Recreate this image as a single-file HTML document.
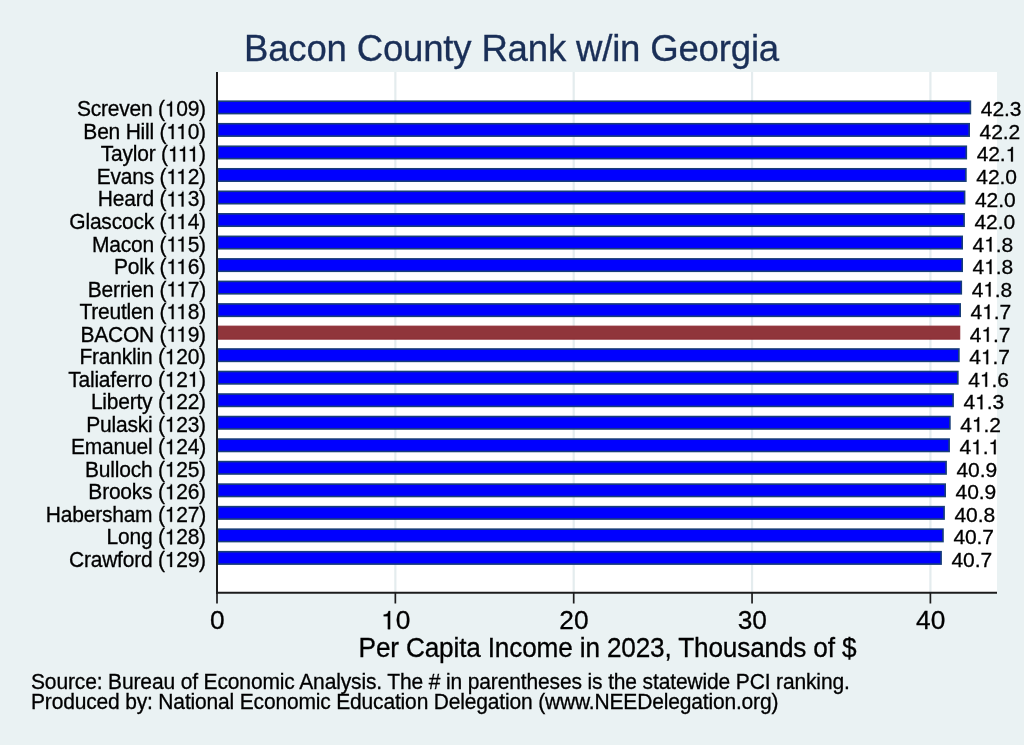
<!DOCTYPE html>
<html><head><meta charset="utf-8"><style>
html,body{margin:0;padding:0;background:#EAF2F3;overflow:hidden;}
svg{display:block;will-change:transform;}
text{font-family:"Liberation Sans", sans-serif;}
</style></head><body>
<svg width="1024" height="745" viewBox="0 0 1024 745">
<rect x="0" y="0" width="1024" height="745" fill="#EAF2F3"/>
<rect x="217" y="72" width="780" height="521" fill="#FFFFFF"/>
<line x1="395.35" y1="72" x2="395.35" y2="592" stroke="#E4ECEE" stroke-width="2.2"/>
<line x1="573.70" y1="72" x2="573.70" y2="592" stroke="#E4ECEE" stroke-width="2.2"/>
<line x1="752.05" y1="72" x2="752.05" y2="592" stroke="#E4ECEE" stroke-width="2.2"/>
<line x1="930.40" y1="72" x2="930.40" y2="592" stroke="#E4ECEE" stroke-width="2.2"/>
<g transform="translate(0,116.40) scale(1,1.02) translate(0,-116.40)">
<mask id="m0" maskUnits="userSpaceOnUse" x="0" y="0" width="1024" height="745"><rect x="0" y="0" width="1024" height="745" fill="#fff"/><rect x="165.15" y="100.75" width="11.45" height="17.05" fill="#000"/></mask>
<text id="t0" x="205.90" y="116.40" font-size="21.0" letter-spacing="-0.22" text-anchor="end" fill="#000" stroke="#000" stroke-width="0.3" mask="url(#m0)">Screven (109)</text>
<path d="M259 505H102V568Q204 581 235 604Q266 627 289 709H347V0H259Z" transform="translate(164.75,116.40) scale(0.02100,-0.02048)" fill="#000" stroke="#000" stroke-width="14.29"/>
</g>
<g transform="translate(0,116.40) scale(1,1.0) translate(0,-116.40)">
<text id="t1" x="980.80" y="116.40" font-size="21.0" letter-spacing="-0.1" text-anchor="start" fill="#000" stroke="#000" stroke-width="0.3">42.3</text>
</g>
<g transform="translate(0,138.93) scale(1,1.02) translate(0,-138.93)">
<mask id="m2" maskUnits="userSpaceOnUse" x="0" y="0" width="1024" height="745"><rect x="0" y="0" width="1024" height="745" fill="#fff"/><rect x="166.69" y="123.28" width="11.45" height="17.05" fill="#000"/><rect x="176.59" y="123.28" width="11.45" height="17.05" fill="#000"/></mask>
<text id="t2" x="205.90" y="138.93" font-size="21.0" letter-spacing="-0.22" text-anchor="end" fill="#000" stroke="#000" stroke-width="0.3" mask="url(#m2)">Ben Hill (110)</text>
<path d="M259 505H102V568Q204 581 235 604Q266 627 289 709H347V0H259Z" transform="translate(166.30,138.93) scale(0.02100,-0.02048)" fill="#000" stroke="#000" stroke-width="14.29"/>
<path d="M259 505H102V568Q204 581 235 604Q266 627 289 709H347V0H259Z" transform="translate(176.20,138.93) scale(0.02100,-0.02048)" fill="#000" stroke="#000" stroke-width="14.29"/>
</g>
<g transform="translate(0,138.93) scale(1,1.0) translate(0,-138.93)">
<text id="t3" x="979.60" y="138.93" font-size="21.0" letter-spacing="-0.1" text-anchor="start" fill="#000" stroke="#000" stroke-width="0.3">42.2</text>
</g>
<g transform="translate(0,161.45) scale(1,1.02) translate(0,-161.45)">
<mask id="m4" maskUnits="userSpaceOnUse" x="0" y="0" width="1024" height="745"><rect x="0" y="0" width="1024" height="745" fill="#fff"/><rect x="168.26" y="145.80" width="11.45" height="17.05" fill="#000"/><rect x="178.16" y="145.80" width="11.45" height="17.05" fill="#000"/><rect x="188.06" y="145.80" width="11.45" height="17.05" fill="#000"/></mask>
<text id="t4" x="205.90" y="161.45" font-size="21.0" letter-spacing="-0.22" text-anchor="end" fill="#000" stroke="#000" stroke-width="0.3" mask="url(#m4)">Taylor (111)</text>
<path d="M259 505H102V568Q204 581 235 604Q266 627 289 709H347V0H259Z" transform="translate(167.86,161.45) scale(0.02100,-0.02048)" fill="#000" stroke="#000" stroke-width="14.29"/>
<path d="M259 505H102V568Q204 581 235 604Q266 627 289 709H347V0H259Z" transform="translate(177.76,161.45) scale(0.02100,-0.02048)" fill="#000" stroke="#000" stroke-width="14.29"/>
<path d="M259 505H102V568Q204 581 235 604Q266 627 289 709H347V0H259Z" transform="translate(187.66,161.45) scale(0.02100,-0.02048)" fill="#000" stroke="#000" stroke-width="14.29"/>
</g>
<g transform="translate(0,161.45) scale(1,1.0) translate(0,-161.45)">
<mask id="m5" maskUnits="userSpaceOnUse" x="0" y="0" width="1024" height="745"><rect x="0" y="0" width="1024" height="745" fill="#fff"/><rect x="1005.99" y="145.80" width="11.45" height="17.05" fill="#000"/></mask>
<text id="t5" x="976.70" y="161.45" font-size="21.0" letter-spacing="-0.1" text-anchor="start" fill="#000" stroke="#000" stroke-width="0.3" mask="url(#m5)">42.1</text>
<path d="M259 505H102V568Q204 581 235 604Q266 627 289 709H347V0H259Z" transform="translate(1005.59,161.45) scale(0.02100,-0.02048)" fill="#000" stroke="#000" stroke-width="14.29"/>
</g>
<g transform="translate(0,183.97) scale(1,1.02) translate(0,-183.97)">
<mask id="m6" maskUnits="userSpaceOnUse" x="0" y="0" width="1024" height="745"><rect x="0" y="0" width="1024" height="745" fill="#fff"/><rect x="166.69" y="168.32" width="11.45" height="17.05" fill="#000"/><rect x="176.59" y="168.32" width="11.45" height="17.05" fill="#000"/></mask>
<text id="t6" x="205.90" y="183.97" font-size="21.0" letter-spacing="-0.22" text-anchor="end" fill="#000" stroke="#000" stroke-width="0.3" mask="url(#m6)">Evans (112)</text>
<path d="M259 505H102V568Q204 581 235 604Q266 627 289 709H347V0H259Z" transform="translate(166.30,183.97) scale(0.02100,-0.02048)" fill="#000" stroke="#000" stroke-width="14.29"/>
<path d="M259 505H102V568Q204 581 235 604Q266 627 289 709H347V0H259Z" transform="translate(176.20,183.97) scale(0.02100,-0.02048)" fill="#000" stroke="#000" stroke-width="14.29"/>
</g>
<g transform="translate(0,183.97) scale(1,1.0) translate(0,-183.97)">
<text id="t7" x="976.30" y="183.97" font-size="21.0" letter-spacing="-0.1" text-anchor="start" fill="#000" stroke="#000" stroke-width="0.3">42.0</text>
</g>
<g transform="translate(0,206.50) scale(1,1.02) translate(0,-206.50)">
<mask id="m8" maskUnits="userSpaceOnUse" x="0" y="0" width="1024" height="745"><rect x="0" y="0" width="1024" height="745" fill="#fff"/><rect x="166.71" y="190.85" width="11.45" height="17.05" fill="#000"/><rect x="176.61" y="190.85" width="11.45" height="17.05" fill="#000"/></mask>
<text id="t8" x="205.90" y="206.50" font-size="21.0" letter-spacing="-0.22" text-anchor="end" fill="#000" stroke="#000" stroke-width="0.3" mask="url(#m8)">Heard (113)</text>
<path d="M259 505H102V568Q204 581 235 604Q266 627 289 709H347V0H259Z" transform="translate(166.31,206.50) scale(0.02100,-0.02048)" fill="#000" stroke="#000" stroke-width="14.29"/>
<path d="M259 505H102V568Q204 581 235 604Q266 627 289 709H347V0H259Z" transform="translate(176.21,206.50) scale(0.02100,-0.02048)" fill="#000" stroke="#000" stroke-width="14.29"/>
</g>
<g transform="translate(0,206.50) scale(1,1.0) translate(0,-206.50)">
<text id="t9" x="975.00" y="206.50" font-size="21.0" letter-spacing="-0.1" text-anchor="start" fill="#000" stroke="#000" stroke-width="0.3">42.0</text>
</g>
<g transform="translate(0,229.03) scale(1,1.02) translate(0,-229.03)">
<mask id="m10" maskUnits="userSpaceOnUse" x="0" y="0" width="1024" height="745"><rect x="0" y="0" width="1024" height="745" fill="#fff"/><rect x="166.71" y="213.38" width="11.45" height="17.05" fill="#000"/><rect x="176.59" y="213.38" width="11.45" height="17.05" fill="#000"/></mask>
<text id="t10" x="205.90" y="229.03" font-size="21.0" letter-spacing="-0.22" text-anchor="end" fill="#000" stroke="#000" stroke-width="0.3" mask="url(#m10)">Glascock (114)</text>
<path d="M259 505H102V568Q204 581 235 604Q266 627 289 709H347V0H259Z" transform="translate(166.31,229.03) scale(0.02100,-0.02048)" fill="#000" stroke="#000" stroke-width="14.29"/>
<path d="M259 505H102V568Q204 581 235 604Q266 627 289 709H347V0H259Z" transform="translate(176.20,229.03) scale(0.02100,-0.02048)" fill="#000" stroke="#000" stroke-width="14.29"/>
</g>
<g transform="translate(0,229.03) scale(1,1.0) translate(0,-229.03)">
<text id="t11" x="974.50" y="229.03" font-size="21.0" letter-spacing="-0.1" text-anchor="start" fill="#000" stroke="#000" stroke-width="0.3">42.0</text>
</g>
<g transform="translate(0,251.55) scale(1,1.02) translate(0,-251.55)">
<mask id="m12" maskUnits="userSpaceOnUse" x="0" y="0" width="1024" height="745"><rect x="0" y="0" width="1024" height="745" fill="#fff"/><rect x="166.71" y="235.90" width="11.45" height="17.05" fill="#000"/><rect x="176.61" y="235.90" width="11.45" height="17.05" fill="#000"/></mask>
<text id="t12" x="205.90" y="251.55" font-size="21.0" letter-spacing="-0.22" text-anchor="end" fill="#000" stroke="#000" stroke-width="0.3" mask="url(#m12)">Macon (115)</text>
<path d="M259 505H102V568Q204 581 235 604Q266 627 289 709H347V0H259Z" transform="translate(166.31,251.55) scale(0.02100,-0.02048)" fill="#000" stroke="#000" stroke-width="14.29"/>
<path d="M259 505H102V568Q204 581 235 604Q266 627 289 709H347V0H259Z" transform="translate(176.21,251.55) scale(0.02100,-0.02048)" fill="#000" stroke="#000" stroke-width="14.29"/>
</g>
<g transform="translate(0,251.55) scale(1,1.0) translate(0,-251.55)">
<mask id="m13" maskUnits="userSpaceOnUse" x="0" y="0" width="1024" height="745"><rect x="0" y="0" width="1024" height="745" fill="#fff"/><rect x="984.57" y="235.90" width="11.45" height="17.05" fill="#000"/></mask>
<text id="t13" x="972.60" y="251.55" font-size="21.0" letter-spacing="-0.1" text-anchor="start" fill="#000" stroke="#000" stroke-width="0.3" mask="url(#m13)">41.8</text>
<path d="M259 505H102V568Q204 581 235 604Q266 627 289 709H347V0H259Z" transform="translate(984.18,251.55) scale(0.02100,-0.02048)" fill="#000" stroke="#000" stroke-width="14.29"/>
</g>
<g transform="translate(0,274.07) scale(1,1.02) translate(0,-274.07)">
<mask id="m14" maskUnits="userSpaceOnUse" x="0" y="0" width="1024" height="745"><rect x="0" y="0" width="1024" height="745" fill="#fff"/><rect x="166.71" y="258.42" width="11.45" height="17.05" fill="#000"/><rect x="176.61" y="258.42" width="11.45" height="17.05" fill="#000"/></mask>
<text id="t14" x="205.90" y="274.07" font-size="21.0" letter-spacing="-0.22" text-anchor="end" fill="#000" stroke="#000" stroke-width="0.3" mask="url(#m14)">Polk (116)</text>
<path d="M259 505H102V568Q204 581 235 604Q266 627 289 709H347V0H259Z" transform="translate(166.31,274.07) scale(0.02100,-0.02048)" fill="#000" stroke="#000" stroke-width="14.29"/>
<path d="M259 505H102V568Q204 581 235 604Q266 627 289 709H347V0H259Z" transform="translate(176.21,274.07) scale(0.02100,-0.02048)" fill="#000" stroke="#000" stroke-width="14.29"/>
</g>
<g transform="translate(0,274.07) scale(1,1.0) translate(0,-274.07)">
<mask id="m15" maskUnits="userSpaceOnUse" x="0" y="0" width="1024" height="745"><rect x="0" y="0" width="1024" height="745" fill="#fff"/><rect x="984.57" y="258.42" width="11.45" height="17.05" fill="#000"/></mask>
<text id="t15" x="972.60" y="274.07" font-size="21.0" letter-spacing="-0.1" text-anchor="start" fill="#000" stroke="#000" stroke-width="0.3" mask="url(#m15)">41.8</text>
<path d="M259 505H102V568Q204 581 235 604Q266 627 289 709H347V0H259Z" transform="translate(984.18,274.07) scale(0.02100,-0.02048)" fill="#000" stroke="#000" stroke-width="14.29"/>
</g>
<g transform="translate(0,296.60) scale(1,1.02) translate(0,-296.60)">
<mask id="m16" maskUnits="userSpaceOnUse" x="0" y="0" width="1024" height="745"><rect x="0" y="0" width="1024" height="745" fill="#fff"/><rect x="166.71" y="280.95" width="11.45" height="17.05" fill="#000"/><rect x="176.61" y="280.95" width="11.45" height="17.05" fill="#000"/></mask>
<text id="t16" x="205.90" y="296.60" font-size="21.0" letter-spacing="-0.22" text-anchor="end" fill="#000" stroke="#000" stroke-width="0.3" mask="url(#m16)">Berrien (117)</text>
<path d="M259 505H102V568Q204 581 235 604Q266 627 289 709H347V0H259Z" transform="translate(166.31,296.60) scale(0.02100,-0.02048)" fill="#000" stroke="#000" stroke-width="14.29"/>
<path d="M259 505H102V568Q204 581 235 604Q266 627 289 709H347V0H259Z" transform="translate(176.21,296.60) scale(0.02100,-0.02048)" fill="#000" stroke="#000" stroke-width="14.29"/>
</g>
<g transform="translate(0,296.60) scale(1,1.0) translate(0,-296.60)">
<mask id="m17" maskUnits="userSpaceOnUse" x="0" y="0" width="1024" height="745"><rect x="0" y="0" width="1024" height="745" fill="#fff"/><rect x="983.67" y="280.95" width="11.45" height="17.05" fill="#000"/></mask>
<text id="t17" x="971.70" y="296.60" font-size="21.0" letter-spacing="-0.1" text-anchor="start" fill="#000" stroke="#000" stroke-width="0.3" mask="url(#m17)">41.8</text>
<path d="M259 505H102V568Q204 581 235 604Q266 627 289 709H347V0H259Z" transform="translate(983.28,296.60) scale(0.02100,-0.02048)" fill="#000" stroke="#000" stroke-width="14.29"/>
</g>
<g transform="translate(0,319.12) scale(1,1.02) translate(0,-319.12)">
<mask id="m18" maskUnits="userSpaceOnUse" x="0" y="0" width="1024" height="745"><rect x="0" y="0" width="1024" height="745" fill="#fff"/><rect x="166.71" y="303.47" width="11.45" height="17.05" fill="#000"/><rect x="176.61" y="303.47" width="11.45" height="17.05" fill="#000"/></mask>
<text id="t18" x="205.90" y="319.12" font-size="21.0" letter-spacing="-0.22" text-anchor="end" fill="#000" stroke="#000" stroke-width="0.3" mask="url(#m18)">Treutlen (118)</text>
<path d="M259 505H102V568Q204 581 235 604Q266 627 289 709H347V0H259Z" transform="translate(166.31,319.12) scale(0.02100,-0.02048)" fill="#000" stroke="#000" stroke-width="14.29"/>
<path d="M259 505H102V568Q204 581 235 604Q266 627 289 709H347V0H259Z" transform="translate(176.21,319.12) scale(0.02100,-0.02048)" fill="#000" stroke="#000" stroke-width="14.29"/>
</g>
<g transform="translate(0,319.12) scale(1,1.0) translate(0,-319.12)">
<mask id="m19" maskUnits="userSpaceOnUse" x="0" y="0" width="1024" height="745"><rect x="0" y="0" width="1024" height="745" fill="#fff"/><rect x="982.57" y="303.47" width="11.45" height="17.05" fill="#000"/></mask>
<text id="t19" x="970.60" y="319.12" font-size="21.0" letter-spacing="-0.1" text-anchor="start" fill="#000" stroke="#000" stroke-width="0.3" mask="url(#m19)">41.7</text>
<path d="M259 505H102V568Q204 581 235 604Q266 627 289 709H347V0H259Z" transform="translate(982.18,319.12) scale(0.02100,-0.02048)" fill="#000" stroke="#000" stroke-width="14.29"/>
</g>
<g transform="translate(0,341.65) scale(1,1.02) translate(0,-341.65)">
<mask id="m20" maskUnits="userSpaceOnUse" x="0" y="0" width="1024" height="745"><rect x="0" y="0" width="1024" height="745" fill="#fff"/><rect x="166.71" y="326.00" width="11.45" height="17.05" fill="#000"/><rect x="176.59" y="326.00" width="11.45" height="17.05" fill="#000"/></mask>
<text id="t20" x="205.90" y="341.65" font-size="21.0" letter-spacing="-0.22" text-anchor="end" fill="#000" stroke="#000" stroke-width="0.3" mask="url(#m20)">BACON (119)</text>
<path d="M259 505H102V568Q204 581 235 604Q266 627 289 709H347V0H259Z" transform="translate(166.31,341.65) scale(0.02100,-0.02048)" fill="#000" stroke="#000" stroke-width="14.29"/>
<path d="M259 505H102V568Q204 581 235 604Q266 627 289 709H347V0H259Z" transform="translate(176.20,341.65) scale(0.02100,-0.02048)" fill="#000" stroke="#000" stroke-width="14.29"/>
</g>
<g transform="translate(0,341.65) scale(1,1.0) translate(0,-341.65)">
<mask id="m21" maskUnits="userSpaceOnUse" x="0" y="0" width="1024" height="745"><rect x="0" y="0" width="1024" height="745" fill="#fff"/><rect x="981.82" y="326.00" width="11.45" height="17.05" fill="#000"/></mask>
<text id="t21" x="969.85" y="341.65" font-size="21.0" letter-spacing="-0.1" text-anchor="start" fill="#000" stroke="#000" stroke-width="0.3" mask="url(#m21)">41.7</text>
<path d="M259 505H102V568Q204 581 235 604Q266 627 289 709H347V0H259Z" transform="translate(981.43,341.65) scale(0.02100,-0.02048)" fill="#000" stroke="#000" stroke-width="14.29"/>
</g>
<g transform="translate(0,364.17) scale(1,1.02) translate(0,-364.17)">
<mask id="m22" maskUnits="userSpaceOnUse" x="0" y="0" width="1024" height="745"><rect x="0" y="0" width="1024" height="745" fill="#fff"/><rect x="165.15" y="348.52" width="11.45" height="17.05" fill="#000"/></mask>
<text id="t22" x="205.90" y="364.17" font-size="21.0" letter-spacing="-0.22" text-anchor="end" fill="#000" stroke="#000" stroke-width="0.3" mask="url(#m22)">Franklin (120)</text>
<path d="M259 505H102V568Q204 581 235 604Q266 627 289 709H347V0H259Z" transform="translate(164.75,364.17) scale(0.02100,-0.02048)" fill="#000" stroke="#000" stroke-width="14.29"/>
</g>
<g transform="translate(0,364.17) scale(1,1.0) translate(0,-364.17)">
<mask id="m23" maskUnits="userSpaceOnUse" x="0" y="0" width="1024" height="745"><rect x="0" y="0" width="1024" height="745" fill="#fff"/><rect x="981.27" y="348.52" width="11.45" height="17.05" fill="#000"/></mask>
<text id="t23" x="969.30" y="364.17" font-size="21.0" letter-spacing="-0.1" text-anchor="start" fill="#000" stroke="#000" stroke-width="0.3" mask="url(#m23)">41.7</text>
<path d="M259 505H102V568Q204 581 235 604Q266 627 289 709H347V0H259Z" transform="translate(980.88,364.17) scale(0.02100,-0.02048)" fill="#000" stroke="#000" stroke-width="14.29"/>
</g>
<g transform="translate(0,386.70) scale(1,1.02) translate(0,-386.70)">
<mask id="m24" maskUnits="userSpaceOnUse" x="0" y="0" width="1024" height="745"><rect x="0" y="0" width="1024" height="745" fill="#fff"/><rect x="165.15" y="371.05" width="11.45" height="17.05" fill="#000"/><rect x="188.06" y="371.05" width="11.45" height="17.05" fill="#000"/></mask>
<text id="t24" x="205.90" y="386.70" font-size="21.0" letter-spacing="-0.22" text-anchor="end" fill="#000" stroke="#000" stroke-width="0.3" mask="url(#m24)">Taliaferro (121)</text>
<path d="M259 505H102V568Q204 581 235 604Q266 627 289 709H347V0H259Z" transform="translate(164.75,386.70) scale(0.02100,-0.02048)" fill="#000" stroke="#000" stroke-width="14.29"/>
<path d="M259 505H102V568Q204 581 235 604Q266 627 289 709H347V0H259Z" transform="translate(187.66,386.70) scale(0.02100,-0.02048)" fill="#000" stroke="#000" stroke-width="14.29"/>
</g>
<g transform="translate(0,386.70) scale(1,1.0) translate(0,-386.70)">
<mask id="m25" maskUnits="userSpaceOnUse" x="0" y="0" width="1024" height="745"><rect x="0" y="0" width="1024" height="745" fill="#fff"/><rect x="980.22" y="371.05" width="11.45" height="17.05" fill="#000"/></mask>
<text id="t25" x="968.25" y="386.70" font-size="21.0" letter-spacing="-0.1" text-anchor="start" fill="#000" stroke="#000" stroke-width="0.3" mask="url(#m25)">41.6</text>
<path d="M259 505H102V568Q204 581 235 604Q266 627 289 709H347V0H259Z" transform="translate(979.83,386.70) scale(0.02100,-0.02048)" fill="#000" stroke="#000" stroke-width="14.29"/>
</g>
<g transform="translate(0,409.23) scale(1,1.02) translate(0,-409.23)">
<mask id="m26" maskUnits="userSpaceOnUse" x="0" y="0" width="1024" height="745"><rect x="0" y="0" width="1024" height="745" fill="#fff"/><rect x="165.13" y="393.58" width="11.45" height="17.05" fill="#000"/></mask>
<text id="t26" x="205.90" y="409.23" font-size="21.0" letter-spacing="-0.22" text-anchor="end" fill="#000" stroke="#000" stroke-width="0.3" mask="url(#m26)">Liberty (122)</text>
<path d="M259 505H102V568Q204 581 235 604Q266 627 289 709H347V0H259Z" transform="translate(164.74,409.23) scale(0.02100,-0.02048)" fill="#000" stroke="#000" stroke-width="14.29"/>
</g>
<g transform="translate(0,409.23) scale(1,1.0) translate(0,-409.23)">
<mask id="m27" maskUnits="userSpaceOnUse" x="0" y="0" width="1024" height="745"><rect x="0" y="0" width="1024" height="745" fill="#fff"/><rect x="975.47" y="393.58" width="11.45" height="17.05" fill="#000"/></mask>
<text id="t27" x="963.50" y="409.23" font-size="21.0" letter-spacing="-0.1" text-anchor="start" fill="#000" stroke="#000" stroke-width="0.3" mask="url(#m27)">41.3</text>
<path d="M259 505H102V568Q204 581 235 604Q266 627 289 709H347V0H259Z" transform="translate(975.08,409.23) scale(0.02100,-0.02048)" fill="#000" stroke="#000" stroke-width="14.29"/>
</g>
<g transform="translate(0,431.75) scale(1,1.02) translate(0,-431.75)">
<mask id="m28" maskUnits="userSpaceOnUse" x="0" y="0" width="1024" height="745"><rect x="0" y="0" width="1024" height="745" fill="#fff"/><rect x="165.15" y="416.10" width="11.45" height="17.05" fill="#000"/></mask>
<text id="t28" x="205.90" y="431.75" font-size="21.0" letter-spacing="-0.22" text-anchor="end" fill="#000" stroke="#000" stroke-width="0.3" mask="url(#m28)">Pulaski (123)</text>
<path d="M259 505H102V568Q204 581 235 604Q266 627 289 709H347V0H259Z" transform="translate(164.75,431.75) scale(0.02100,-0.02048)" fill="#000" stroke="#000" stroke-width="14.29"/>
</g>
<g transform="translate(0,431.75) scale(1,1.0) translate(0,-431.75)">
<mask id="m29" maskUnits="userSpaceOnUse" x="0" y="0" width="1024" height="745"><rect x="0" y="0" width="1024" height="745" fill="#fff"/><rect x="972.27" y="416.10" width="11.45" height="17.05" fill="#000"/></mask>
<text id="t29" x="960.30" y="431.75" font-size="21.0" letter-spacing="-0.1" text-anchor="start" fill="#000" stroke="#000" stroke-width="0.3" mask="url(#m29)">41.2</text>
<path d="M259 505H102V568Q204 581 235 604Q266 627 289 709H347V0H259Z" transform="translate(971.88,431.75) scale(0.02100,-0.02048)" fill="#000" stroke="#000" stroke-width="14.29"/>
</g>
<g transform="translate(0,454.27) scale(1,1.02) translate(0,-454.27)">
<mask id="m30" maskUnits="userSpaceOnUse" x="0" y="0" width="1024" height="745"><rect x="0" y="0" width="1024" height="745" fill="#fff"/><rect x="165.15" y="438.62" width="11.45" height="17.05" fill="#000"/></mask>
<text id="t30" x="205.90" y="454.27" font-size="21.0" letter-spacing="-0.22" text-anchor="end" fill="#000" stroke="#000" stroke-width="0.3" mask="url(#m30)">Emanuel (124)</text>
<path d="M259 505H102V568Q204 581 235 604Q266 627 289 709H347V0H259Z" transform="translate(164.75,454.27) scale(0.02100,-0.02048)" fill="#000" stroke="#000" stroke-width="14.29"/>
</g>
<g transform="translate(0,454.27) scale(1,1.0) translate(0,-454.27)">
<mask id="m31" maskUnits="userSpaceOnUse" x="0" y="0" width="1024" height="745"><rect x="0" y="0" width="1024" height="745" fill="#fff"/><rect x="971.52" y="438.62" width="11.45" height="17.05" fill="#000"/><rect x="988.84" y="438.62" width="11.45" height="17.05" fill="#000"/></mask>
<text id="t31" x="959.55" y="454.27" font-size="21.0" letter-spacing="-0.1" text-anchor="start" fill="#000" stroke="#000" stroke-width="0.3" mask="url(#m31)">41.1</text>
<path d="M259 505H102V568Q204 581 235 604Q266 627 289 709H347V0H259Z" transform="translate(971.13,454.27) scale(0.02100,-0.02048)" fill="#000" stroke="#000" stroke-width="14.29"/>
<path d="M259 505H102V568Q204 581 235 604Q266 627 289 709H347V0H259Z" transform="translate(988.44,454.27) scale(0.02100,-0.02048)" fill="#000" stroke="#000" stroke-width="14.29"/>
</g>
<g transform="translate(0,476.80) scale(1,1.02) translate(0,-476.80)">
<mask id="m32" maskUnits="userSpaceOnUse" x="0" y="0" width="1024" height="745"><rect x="0" y="0" width="1024" height="745" fill="#fff"/><rect x="165.15" y="461.15" width="11.45" height="17.05" fill="#000"/></mask>
<text id="t32" x="205.90" y="476.80" font-size="21.0" letter-spacing="-0.22" text-anchor="end" fill="#000" stroke="#000" stroke-width="0.3" mask="url(#m32)">Bulloch (125)</text>
<path d="M259 505H102V568Q204 581 235 604Q266 627 289 709H347V0H259Z" transform="translate(164.75,476.80) scale(0.02100,-0.02048)" fill="#000" stroke="#000" stroke-width="14.29"/>
</g>
<g transform="translate(0,476.80) scale(1,1.0) translate(0,-476.80)">
<text id="t33" x="956.50" y="476.80" font-size="21.0" letter-spacing="-0.1" text-anchor="start" fill="#000" stroke="#000" stroke-width="0.3">40.9</text>
</g>
<g transform="translate(0,499.32) scale(1,1.02) translate(0,-499.32)">
<mask id="m34" maskUnits="userSpaceOnUse" x="0" y="0" width="1024" height="745"><rect x="0" y="0" width="1024" height="745" fill="#fff"/><rect x="165.15" y="483.67" width="11.45" height="17.05" fill="#000"/></mask>
<text id="t34" x="205.90" y="499.32" font-size="21.0" letter-spacing="-0.22" text-anchor="end" fill="#000" stroke="#000" stroke-width="0.3" mask="url(#m34)">Brooks (126)</text>
<path d="M259 505H102V568Q204 581 235 604Q266 627 289 709H347V0H259Z" transform="translate(164.75,499.32) scale(0.02100,-0.02048)" fill="#000" stroke="#000" stroke-width="14.29"/>
</g>
<g transform="translate(0,499.32) scale(1,1.0) translate(0,-499.32)">
<text id="t35" x="955.60" y="499.32" font-size="21.0" letter-spacing="-0.1" text-anchor="start" fill="#000" stroke="#000" stroke-width="0.3">40.9</text>
</g>
<g transform="translate(0,521.85) scale(1,1.02) translate(0,-521.85)">
<mask id="m36" maskUnits="userSpaceOnUse" x="0" y="0" width="1024" height="745"><rect x="0" y="0" width="1024" height="745" fill="#fff"/><rect x="165.15" y="506.20" width="11.45" height="17.05" fill="#000"/></mask>
<text id="t36" x="205.90" y="521.85" font-size="21.0" letter-spacing="-0.22" text-anchor="end" fill="#000" stroke="#000" stroke-width="0.3" mask="url(#m36)">Habersham (127)</text>
<path d="M259 505H102V568Q204 581 235 604Q266 627 289 709H347V0H259Z" transform="translate(164.75,521.85) scale(0.02100,-0.02048)" fill="#000" stroke="#000" stroke-width="14.29"/>
</g>
<g transform="translate(0,521.85) scale(1,1.0) translate(0,-521.85)">
<text id="t37" x="954.50" y="521.85" font-size="21.0" letter-spacing="-0.1" text-anchor="start" fill="#000" stroke="#000" stroke-width="0.3">40.8</text>
</g>
<g transform="translate(0,544.38) scale(1,1.02) translate(0,-544.38)">
<mask id="m38" maskUnits="userSpaceOnUse" x="0" y="0" width="1024" height="745"><rect x="0" y="0" width="1024" height="745" fill="#fff"/><rect x="165.15" y="528.73" width="11.45" height="17.05" fill="#000"/></mask>
<text id="t38" x="205.90" y="544.38" font-size="21.0" letter-spacing="-0.22" text-anchor="end" fill="#000" stroke="#000" stroke-width="0.3" mask="url(#m38)">Long (128)</text>
<path d="M259 505H102V568Q204 581 235 604Q266 627 289 709H347V0H259Z" transform="translate(164.75,544.38) scale(0.02100,-0.02048)" fill="#000" stroke="#000" stroke-width="14.29"/>
</g>
<g transform="translate(0,544.38) scale(1,1.0) translate(0,-544.38)">
<text id="t39" x="953.40" y="544.38" font-size="21.0" letter-spacing="-0.1" text-anchor="start" fill="#000" stroke="#000" stroke-width="0.3">40.7</text>
</g>
<g transform="translate(0,566.90) scale(1,1.02) translate(0,-566.90)">
<mask id="m40" maskUnits="userSpaceOnUse" x="0" y="0" width="1024" height="745"><rect x="0" y="0" width="1024" height="745" fill="#fff"/><rect x="165.15" y="551.25" width="11.45" height="17.05" fill="#000"/></mask>
<text id="t40" x="205.90" y="566.90" font-size="21.0" letter-spacing="-0.22" text-anchor="end" fill="#000" stroke="#000" stroke-width="0.3" mask="url(#m40)">Crawford (129)</text>
<path d="M259 505H102V568Q204 581 235 604Q266 627 289 709H347V0H259Z" transform="translate(164.75,566.90) scale(0.02100,-0.02048)" fill="#000" stroke="#000" stroke-width="14.29"/>
</g>
<g transform="translate(0,566.90) scale(1,1.0) translate(0,-566.90)">
<text id="t41" x="951.50" y="566.90" font-size="21.0" letter-spacing="-0.1" text-anchor="start" fill="#000" stroke="#000" stroke-width="0.3">40.7</text>
</g>
<g transform="translate(0,629.20) scale(1,1.0) translate(0,-629.20)">
<text id="t42" x="217.30" y="629.20" font-size="26.3" text-anchor="middle" fill="#000" stroke="#000" stroke-width="0.3">0</text>
</g>
<g transform="translate(0,629.20) scale(1,1.0) translate(0,-629.20)">
<mask id="m43" maskUnits="userSpaceOnUse" x="0" y="0" width="1024" height="745"><rect x="0" y="0" width="1024" height="745" fill="#fff"/><rect x="381.82" y="609.91" width="13.74" height="20.69" fill="#000"/></mask>
<text id="t43" x="395.65" y="629.20" font-size="26.3" text-anchor="middle" fill="#000" stroke="#000" stroke-width="0.3" mask="url(#m43)">10</text>
<path d="M259 505H102V568Q204 581 235 604Q266 627 289 709H347V0H259Z" transform="translate(381.02,629.20) scale(0.02630,-0.02564)" fill="#000" stroke="#000" stroke-width="11.41"/>
</g>
<g transform="translate(0,629.20) scale(1,1.0) translate(0,-629.20)">
<text id="t44" x="574.00" y="629.20" font-size="26.3" text-anchor="middle" fill="#000" stroke="#000" stroke-width="0.3">20</text>
</g>
<g transform="translate(0,629.20) scale(1,1.0) translate(0,-629.20)">
<text id="t45" x="752.35" y="629.20" font-size="26.3" text-anchor="middle" fill="#000" stroke="#000" stroke-width="0.3">30</text>
</g>
<g transform="translate(0,629.20) scale(1,1.0) translate(0,-629.20)">
<text id="t46" x="930.70" y="629.20" font-size="26.3" text-anchor="middle" fill="#000" stroke="#000" stroke-width="0.3">40</text>
</g>
<g transform="translate(0,657.00) scale(1,1.02) translate(0,-657.00)">
<text id="t47" x="607.50" y="657.00" font-size="26.2" letter-spacing="-0.17" text-anchor="middle" fill="#000" stroke="#000" stroke-width="0.3">Per Capita Income in 2023, Thousands of $</text>
</g>
<g transform="translate(0,688.80) scale(1,1.02) translate(0,-688.80)">
<text id="t48" x="31.00" y="688.80" font-size="21.0" letter-spacing="-0.135" text-anchor="start" fill="#000" stroke="#000" stroke-width="0.3">Source: Bureau of Economic Analysis. The # in parentheses is the statewide PCI ranking.</text>
</g>
<g transform="translate(0,709.00) scale(1,1.02) translate(0,-709.00)">
<text id="t49" x="31.00" y="709.00" font-size="21.0" letter-spacing="-0.165" text-anchor="start" fill="#000" stroke="#000" stroke-width="0.3">Produced by: National Economic Education Delegation (www.NEEDelegation.org)</text>
</g>
<g transform="translate(0,60.90) scale(1,1.035) translate(0,-60.90)">
<text id="t50" x="511.50" y="60.90" font-size="36.6" letter-spacing="-0.2" text-anchor="middle" fill="#1A2F57" stroke="#1A2F57" stroke-width="0.3">Bacon County Rank w/in Georgia</text>
</g>
<rect x="217.80" y="101.20" width="752.60" height="12.40" fill="#0000FF" stroke="#183E78" stroke-width="1.6"/>
<rect x="217.80" y="123.73" width="751.40" height="12.40" fill="#0000FF" stroke="#183E78" stroke-width="1.6"/>
<rect x="217.80" y="146.25" width="748.50" height="12.40" fill="#0000FF" stroke="#183E78" stroke-width="1.6"/>
<rect x="217.80" y="168.78" width="748.10" height="12.40" fill="#0000FF" stroke="#183E78" stroke-width="1.6"/>
<rect x="217.80" y="191.30" width="746.80" height="12.40" fill="#0000FF" stroke="#183E78" stroke-width="1.6"/>
<rect x="217.80" y="213.83" width="746.30" height="12.40" fill="#0000FF" stroke="#183E78" stroke-width="1.6"/>
<rect x="217.80" y="236.35" width="744.40" height="12.40" fill="#0000FF" stroke="#183E78" stroke-width="1.6"/>
<rect x="217.80" y="258.88" width="744.40" height="12.40" fill="#0000FF" stroke="#183E78" stroke-width="1.6"/>
<rect x="217.80" y="281.40" width="743.50" height="12.40" fill="#0000FF" stroke="#183E78" stroke-width="1.6"/>
<rect x="217.80" y="303.93" width="742.40" height="12.40" fill="#0000FF" stroke="#183E78" stroke-width="1.6"/>
<rect x="217.50" y="326.15" width="742.25" height="13.00" fill="#90353B" stroke="#8A2A33" stroke-width="1"/>
<rect x="217.80" y="348.97" width="741.10" height="12.40" fill="#0000FF" stroke="#183E78" stroke-width="1.6"/>
<rect x="217.80" y="371.50" width="740.05" height="12.40" fill="#0000FF" stroke="#183E78" stroke-width="1.6"/>
<rect x="217.80" y="394.03" width="735.30" height="12.40" fill="#0000FF" stroke="#183E78" stroke-width="1.6"/>
<rect x="217.80" y="416.55" width="732.10" height="12.40" fill="#0000FF" stroke="#183E78" stroke-width="1.6"/>
<rect x="217.80" y="439.07" width="731.35" height="12.40" fill="#0000FF" stroke="#183E78" stroke-width="1.6"/>
<rect x="217.80" y="461.60" width="728.30" height="12.40" fill="#0000FF" stroke="#183E78" stroke-width="1.6"/>
<rect x="217.80" y="484.12" width="727.40" height="12.40" fill="#0000FF" stroke="#183E78" stroke-width="1.6"/>
<rect x="217.80" y="506.65" width="726.30" height="12.40" fill="#0000FF" stroke="#183E78" stroke-width="1.6"/>
<rect x="217.80" y="529.17" width="725.20" height="12.40" fill="#0000FF" stroke="#183E78" stroke-width="1.6"/>
<rect x="217.80" y="551.70" width="723.30" height="12.40" fill="#0000FF" stroke="#183E78" stroke-width="1.6"/>
<line x1="217" y1="72" x2="217" y2="593.8" stroke="#1C1C1C" stroke-width="2"/>
<line x1="216" y1="592.8" x2="997" y2="592.8" stroke="#1C1C1C" stroke-width="2"/>
<line x1="217.00" y1="592" x2="217.00" y2="603.5" stroke="#1C1C1C" stroke-width="1.7"/>
<line x1="395.35" y1="592" x2="395.35" y2="603.5" stroke="#1C1C1C" stroke-width="1.7"/>
<line x1="573.70" y1="592" x2="573.70" y2="603.5" stroke="#1C1C1C" stroke-width="1.7"/>
<line x1="752.05" y1="592" x2="752.05" y2="603.5" stroke="#1C1C1C" stroke-width="1.7"/>
<line x1="930.40" y1="592" x2="930.40" y2="603.5" stroke="#1C1C1C" stroke-width="1.7"/>
</svg></body></html>
